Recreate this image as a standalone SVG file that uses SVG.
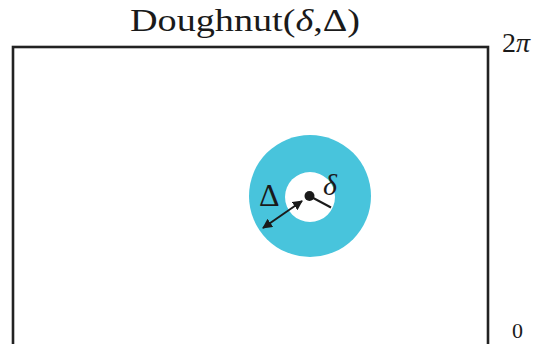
<svg xmlns="http://www.w3.org/2000/svg" width="533" height="344" viewBox="0 0 533 344">
<style>
.t{font-family:"Liberation Serif","DejaVu Serif",serif;fill:#1a1a1a}
</style>
<defs>
<marker id="ah" viewBox="0 0 10 10" refX="9" refY="5" markerWidth="5" markerHeight="5" orient="auto-start-reverse" markerUnits="strokeWidth">
<path d="M0,0 L10,5 L0,10 Z" fill="#1a1a1a"/>
</marker>
</defs>
<rect width="533" height="344" fill="#fff"/>
<g id="frame">
<rect x="13" y="47" width="475" height="310" fill="none" stroke="#222" stroke-width="2.6"/>
</g>
<text class="t" x="245" y="31" font-size="32" text-anchor="middle" textLength="230" lengthAdjust="spacingAndGlyphs">Doughnut(<tspan font-style="italic">δ</tspan>,Δ)</text>
<text class="t" x="502" y="52" font-size="28">2<tspan font-style="italic">π</tspan></text>
<text class="t" x="512" y="338" font-size="22">0</text>
<g id="doughnut">
<circle cx="310" cy="196" r="61" fill="#48C4DC"/>
<circle cx="310" cy="197" r="25" fill="#fff"/>
<circle cx="309.5" cy="196" r="5" fill="#1a1a1a"/>
</g>
<g id="connectors">
<line x1="309.5" y1="196" x2="331" y2="207.5" stroke="#1a1a1a" stroke-width="2"/>
<line x1="302" y1="201" x2="263" y2="228" stroke="#1a1a1a" stroke-width="2" marker-start="url(#ah)" marker-end="url(#ah)"/>
</g>
<text class="t" x="323" y="195" font-size="30" font-style="italic">δ</text>
<text class="t" x="259" y="206" font-size="32">Δ</text>
</svg>
